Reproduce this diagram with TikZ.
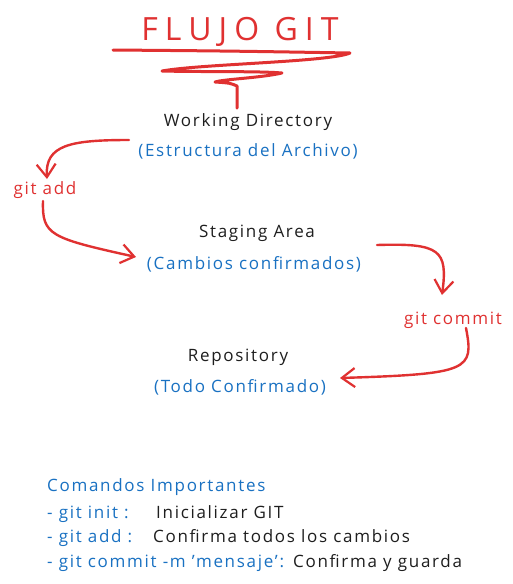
\documentclass[tikz,border=0pt]{standalone}
\usepackage{fontspec}
\setmainfont{Open Sans}
\usetikzlibrary{arrows.meta}
\definecolor{xred}{HTML}{E03131}
\definecolor{xblue}{HTML}{1971C2}
\definecolor{xblack}{HTML}{1E1E1E}
\tikzset{
  lbl/.style={text=xblack, font=\fontsize{17}{20}\selectfont\addfontfeatures{LetterSpace=10}, inner sep=0pt},
  sub/.style={text=xblue, font=\fontsize{17}{20}\selectfont\addfontfeatures{LetterSpace=10}, inner sep=0pt},
  cmd/.style={text=xred, font=\fontsize{17}{20}\selectfont\addfontfeatures{LetterSpace=10}, inner sep=0pt},
  flow/.style={draw=xred, line width=2.4pt, line cap=round, line join=round,
    -{Straight Barb[length=13pt,width=19pt,line width=2.2pt]}},
  legend/.style={font=\fontsize{17}{20}\selectfont\addfontfeatures{LetterSpace=10}, inner sep=0pt, anchor=base west},
}
\begin{document}
\begin{tikzpicture}[x=1pt,y=-1pt]
\useasboundingbox[fill=white] (0,0) rectangle (513,584);
% title
\node[text=xred, font=\fontsize{32}{36}\selectfont\addfontfeatures{LetterSpace=22}, inner sep=0pt] (title) at (240,32) {FLUJO GIT};
\draw[xred, line width=3pt, line cap=round, line join=round]
  (113,50) .. controls (230,51) .. (350,53)
  .. controls (330,62) and (200,64) .. (162,71)
  .. controls (200,72) and (260,71) .. (282,73)
  .. controls (260,78) and (225,79) .. (215,82)
  .. controls (230,83) .. (237,86) -- (237,108);
% nodes
\node[lbl] (wd) at (248,122) {Working Directory};
\node[sub] (wds) at (248,151) {(Estructura del Archivo)};
\node[lbl] (sa) at (257,233) {Staging Area};
\node[sub] (sas) at (254,264) {(Cambios confirmados)};
\node[lbl] (rp) at (238,357) {Repository};
\node[sub] (rps) at (240,387) {(Todo Confirmado)};
\node[cmd] (add) at (45,190) {git add};
\node[cmd] (commit) at (453,320) {git commit};
% arrow coordinates
\coordinate (a1s) at (129,140);
\coordinate (a1e) at (47,179);
\coordinate (a2s) at (43,201);
\coordinate (a2e) at (136,257);
\coordinate (a3s) at (377,245);
\coordinate (a3e) at (442,295);
\coordinate (a4s) at (466,328);
\coordinate (a4e) at (340,378);
\draw[flow] (a1s) .. controls (70,140) and (45,145) .. (a1e);
\draw[flow] (a2s) .. controls (42,235) and (50,238) .. (a2e);
\draw[flow] (a3s) .. controls (440,243) and (448,250) .. (a3e);
\draw[flow] (a4s) .. controls (474,370) and (470,374) .. (a4e);
% legend
\node[legend, text=xblue] (ci) at (47,491) {Comandos Importantes};
\node[legend, text=xblue] (l1) at (47,518) {- git init :};
\node[legend, text=xblack] (l1b) at (156,518) {Inicializar GIT};
\node[legend, text=xblue] (l2) at (47,542) {- git add :};
\node[legend, text=xblack] (l2b) at (153,542) {Confirma todos los cambios};
\node[legend, text=xblue] (l3) at (47,567) {- git commit -m 'mensaje':};
\node[legend, text=xblack] (l3b) at (293,567) {Confirma y guarda};
\end{tikzpicture}
\end{document}
